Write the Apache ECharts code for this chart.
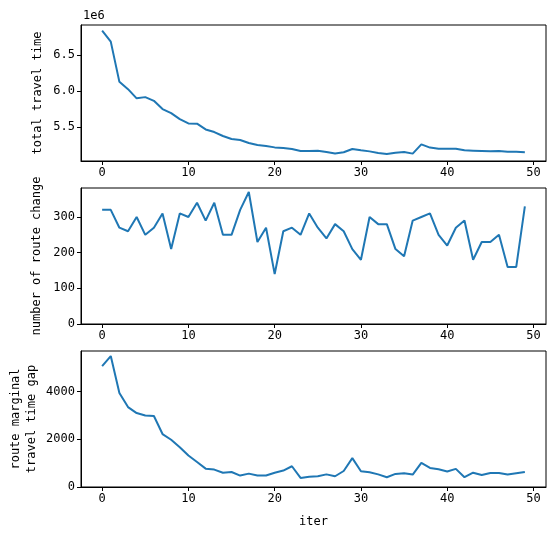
<!DOCTYPE html>
<html style="height: 100%">
<head>
<meta charset="utf-8">
<script src="https://cdn.jsdelivr.net/npm/echarts@6/dist/echarts.min.js"></script>
</head>
<body style="height: 100%; margin: 0; background: #fff">
<div id="container" style="width: 556px; height: 538px"></div>
<script type="text/javascript">
var iters = [];
for (var i = 0; i < 50; i++) iters.push(i);

// total travel time (units of 1e6)
var travelTime = [6.835, 6.683, 6.128, 6.027, 5.900, 5.917, 5.866, 5.752, 5.697, 5.614,
    5.554, 5.550, 5.471, 5.435, 5.380, 5.339, 5.325, 5.284, 5.256, 5.242,
    5.223, 5.215, 5.200, 5.174, 5.174, 5.178, 5.160, 5.140, 5.155, 5.200,
    5.182, 5.168, 5.146, 5.132, 5.150, 5.160, 5.137, 5.265, 5.220, 5.205,
    5.205, 5.205, 5.182, 5.178, 5.174, 5.170, 5.174, 5.164, 5.164, 5.155];

var routeChange = [320, 320, 270, 260, 300, 250, 270, 310, 210, 310,
    300, 340, 290, 340, 250, 250, 320, 370, 230, 270,
    140, 260, 270, 250, 310, 270, 240, 280, 260, 210,
    180, 300, 280, 280, 210, 190, 290, 300, 310, 250,
    220, 270, 290, 180, 230, 230, 250, 160, 160, 330];

var marginalGap = [5070, 5490, 3940, 3350, 3100, 3000, 2975, 2220, 1980, 1670,
    1320, 1050, 770, 730, 600, 630, 480, 560, 480, 480,
    600, 690, 870, 380, 430, 450, 530, 450, 670, 1210,
    660, 620, 530, 410, 550, 575, 520, 1010, 800, 745,
    650, 760, 410, 600, 505, 590, 590, 520, 575, 630];

var xTicks = [0, 10, 20, 30, 40, 50];
var yTicks1 = [5.5, 6.0, 6.5];
var yTicks2 = [0, 100, 200, 300];
var yTicks3 = [0, 2000, 4000];

var font = 'DejaVu Sans Mono';
var blue = '#1f77b4';

function pairs(vals) {
    return vals.map(function (v, i) { return [iters[i], v]; });
}

function xAxisFor(idx, name) {
    return {
        type: 'value', gridIndex: idx, min: -2.45, max: 51.45,
        name: name || '', nameLocation: 'middle', nameGap: 29, nameMoveOverlap: false,
        nameTextStyle: { fontFamily: font, fontSize: 12, color: '#000' },
        axisLine: { show: true, onZero: false, lineStyle: { color: '#000', width: 1 } },
        axisTick: { show: true, inside: false, length: 4, customValues: xTicks, lineStyle: { color: '#000' } },
        axisLabel: { customValues: xTicks, margin: 6, fontFamily: font, fontSize: 12, color: '#000',
            formatter: function (v) { return String(v); } },
        splitLine: { show: false }
    };
}

function yAxisFor(idx, min, max, ticks, name, gap, fmt) {
    return {
        type: 'value', gridIndex: idx, min: min, max: max,
        name: name, nameLocation: 'middle', nameRotate: 90, nameGap: gap, nameMoveOverlap: false,
        nameTextStyle: { fontFamily: font, fontSize: 12, color: '#000', lineHeight: 16 },
        axisLine: { show: true, onZero: false, lineStyle: { color: '#000', width: 1 } },
        axisTick: { show: true, inside: false, length: 4, customValues: ticks, lineStyle: { color: '#000' } },
        axisLabel: { customValues: ticks, margin: 6, fontFamily: font, fontSize: 12, color: '#000',
            formatter: fmt || function (v) { return String(v); } },
        splitLine: { show: false }
    };
}

function lineSeries(idx, vals) {
    return {
        type: 'line', xAxisIndex: idx, yAxisIndex: idx, data: pairs(vals),
        showSymbol: false, symbol: 'none', animation: false,
        lineStyle: { color: blue, width: 2 }
    };
}

var gridBase = { left: 81, right: 10, height: 136, show: true, borderColor: '#000', borderWidth: 1,
    containLabel: false, outerBoundsMode: 'none' };

var option = {
    animation: false,
    backgroundColor: '#fff',
    grid: [
        Object.assign({ top: 25 }, gridBase),
        Object.assign({ top: 188 }, gridBase),
        Object.assign({ top: 351 }, gridBase)
    ],
    xAxis: [xAxisFor(0), xAxisFor(1), xAxisFor(2, 'iter')],
    yAxis: [
        yAxisFor(0, 5.035, 6.913, yTicks1, 'total travel time', 35, function (v) { return v.toFixed(1); }),
        yAxisFor(1, 0, 381.3, yTicks2, 'number of route change', 36),
        yAxisFor(2, 0, 5702, yTicks3, 'route marginal\ntravel time gap', 41)
    ],
    graphic: [{
        type: 'text', left: 83, top: 10,
        style: { text: '1e6', fontFamily: font, fontSize: 12, fill: '#000' }
    }],
    series: [
        lineSeries(0, travelTime),
        lineSeries(1, routeChange),
        lineSeries(2, marginalGap)
    ]
};

var myChart = echarts.init(document.getElementById('container'));
myChart.setOption(option, true);
</script>
</body>
</html>
